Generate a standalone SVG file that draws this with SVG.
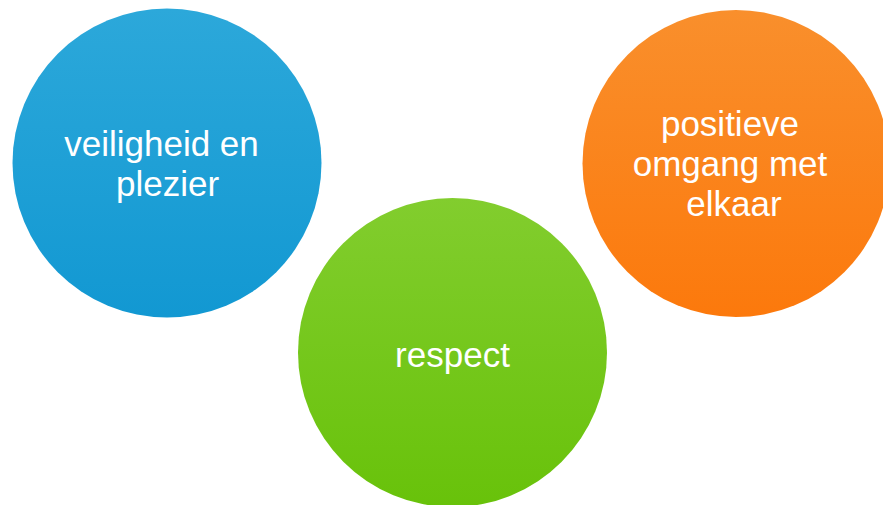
<svg xmlns="http://www.w3.org/2000/svg" width="883" height="505" viewBox="0 0 883 505">
<defs>
<linearGradient id="gBlue" x1="0" y1="0" x2="0" y2="1"><stop offset="0" stop-color="#2ca8da"/><stop offset="1" stop-color="#1298d2"/></linearGradient>
<linearGradient id="gGreen" x1="0" y1="0" x2="0" y2="1"><stop offset="0" stop-color="#82cd2e"/><stop offset="1" stop-color="#68c20a"/></linearGradient>
<linearGradient id="gOrange" x1="0" y1="0" x2="0" y2="1"><stop offset="0" stop-color="#f98f2c"/><stop offset="1" stop-color="#fc790c"/></linearGradient>
</defs>
<style>
.lbl{font-family:"Liberation Sans",Arial,sans-serif;font-size:35px;fill:#ffffff;text-anchor:middle}
</style>
<rect width="883" height="505" fill="#ffffff"/>
<g id="connectors"/>
<g id="node-veiligheid">
<circle cx="167" cy="163" r="154.5" fill="url(#gBlue)"/>
<text class="lbl" x="161.5" y="156">veiligheid en</text>
<text class="lbl" x="167.5" y="196">plezier</text>
</g>
<g id="node-respect">
<circle cx="452.5" cy="352.5" r="154.5" fill="url(#gGreen)"/>
<text class="lbl" x="452.5" y="367">respect</text>
</g>
<g id="node-positieve">
<circle cx="736" cy="163.5" r="153.5" fill="url(#gOrange)"/>
<text class="lbl" x="730" y="136">positieve</text>
<text class="lbl" x="730" y="176">omgang met</text>
<text class="lbl" x="734" y="216">elkaar</text>
</g>
</svg>
